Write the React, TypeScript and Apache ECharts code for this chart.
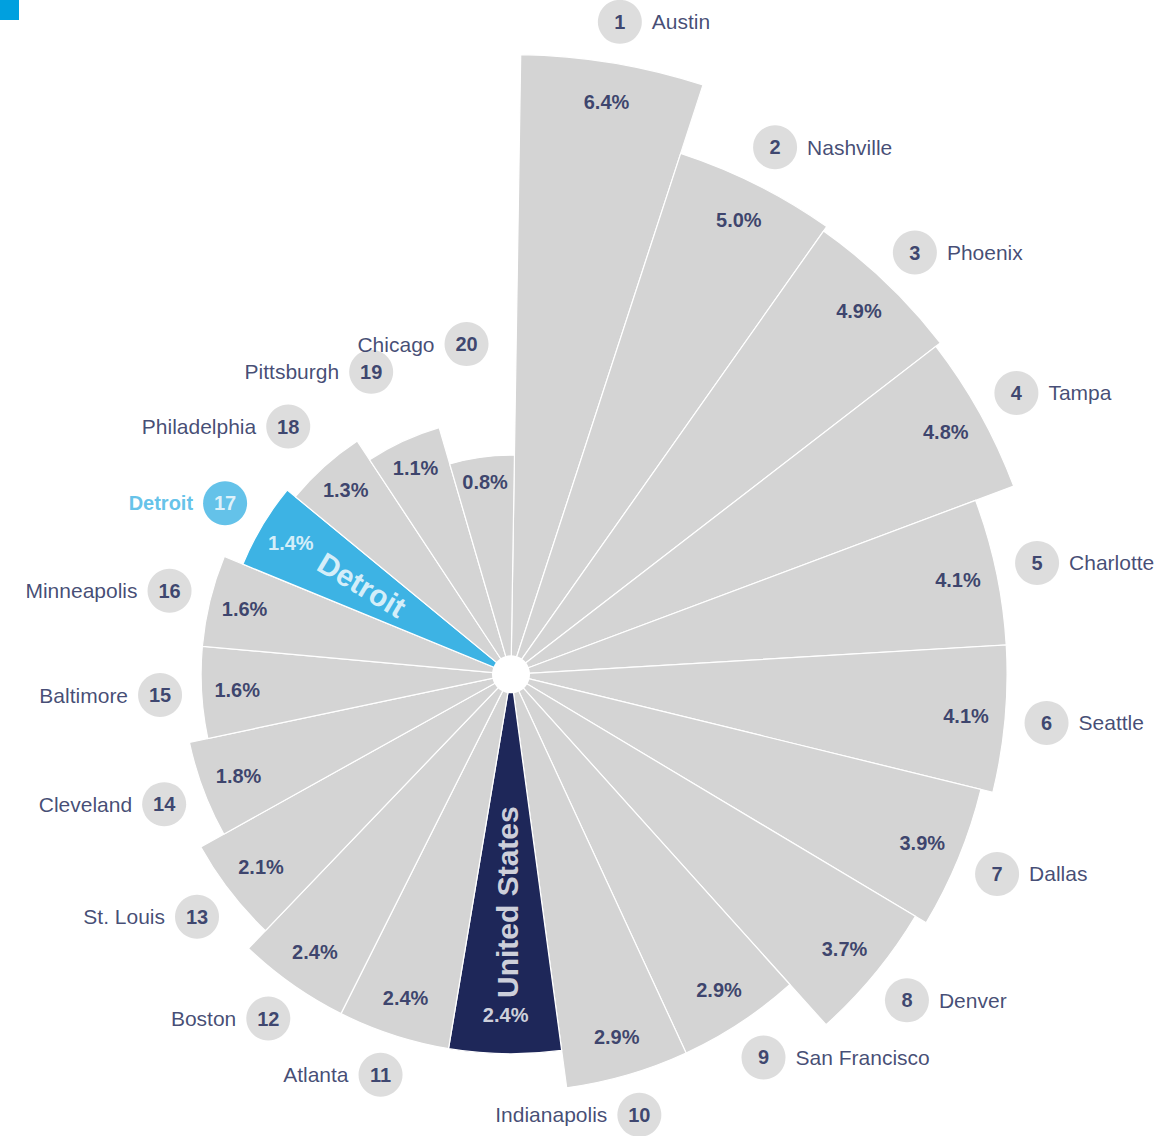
import React, { useEffect, useRef } from "react";
import * as echarts from "echarts";

const cities = [
  "Austin", "Nashville", "Phoenix", "Tampa", "Charlotte", "Seattle", "Dallas",
  "Denver", "San Francisco", "Indianapolis", "United States", "Atlanta", "Boston",
  "St. Louis", "Cleveland", "Baltimore", "Minneapolis", "Detroit", "Philadelphia",
  "Pittsburgh", "Chicago",
];
const growth = [
  6.4, 5.0, 4.9, 4.8, 4.1, 4.1, 3.9, 3.7, 2.9, 2.9, 2.4, 2.4, 2.4, 2.1, 1.8, 1.6,
  1.6, 1.4, 1.3, 1.1, 0.8,
];
const ranks: (number | null)[] = [
  1, 2, 3, 4, 5, 6, 7, 8, 9, 10, null, 11, 12, 13, 14, 15, 16, 17, 18, 19, 20,
];

const NAVY = "#141d52";
const GRAY = "#d4d4d4";
const BLUE = "#3db3e4";
const DARK = "#1e2759";
const FONT = "'Liberation Sans', Arial, sans-serif";

export default function App() {
  const ref = useRef<HTMLDivElement>(null);
  useEffect(() => {
    const chart = echarts.init(ref.current!, null, { renderer: "svg" });
    const US = cities.indexOf("United States");
    const DET = cities.indexOf("Detroit");
    const radial = growth.map((v) => Math.sqrt(v));
    const barColor = (i: number) => (i === US ? DARK : i === DET ? BLUE : GRAY);
    const labelR = (i: number) => Math.max(radial[i] + 0.17, 1.36);

    const rankItems: any[] = [];
    const nameItems: any[] = [];
    cities.forEach((c, i) => {
      if (ranks[i] == null) return;
      const isDet = i === DET;
      rankItems.push({
        value: [labelR(i), i],
        itemStyle: { color: isDet ? BLUE : GRAY },
        label: { color: isDet ? "#ffffff" : NAVY },
      });
      nameItems.push({
        value: [labelR(i), i],
        label: {
          position: i < 9 ? "right" : "left",
          color: isDet ? BLUE : NAVY,
          fontWeight: isDet ? "bold" : "normal",
          fontSize: isDet ? 20 : 21,
        },
      });
    });

    const valueItems = growth.map((v, i) => ({
      value: [radial[i] - Math.min(0.16, 0.115 * radial[i]), i],
      label: { color: i === US || i === DET ? "#ffffff" : NAVY },
    }));

    chart.setOption({
      animation: false,
      polar: { center: [511, 674.3], radius: 735 },
      angleAxis: {
        type: "category",
        data: cities,
        startAngle: 89.1,
        clockwise: true,
        axisLine: { show: false },
        axisTick: { show: false },
        axisLabel: { show: false },
        splitLine: { show: false },
      },
      radiusAxis: {
        type: "value",
        min: 0,
        max: 3,
        axisLine: { show: false },
        axisTick: { show: false },
        axisLabel: { show: false },
        splitLine: { show: false },
      },
      series: [
        {
          type: "bar",
          coordinateSystem: "polar",
          barCategoryGap: "0%",
          silent: true,
          data: radial.map((r, i) => ({
            value: r,
            itemStyle: { color: barColor(i), borderColor: "#ffffff", borderWidth: 1.2 },
          })),
        },
        {
          type: "scatter",
          coordinateSystem: "polar",
          silent: true,
          symbol: "circle",
          symbolSize: 1,
          itemStyle: { color: "transparent" },
          label: {
            show: true,
            position: "inside",
            fontFamily: FONT,
            fontWeight: "bold",
            fontSize: 20,
            formatter: (p: any) => `${growth[p.dataIndex].toFixed(1)}%`,
          },
          data: valueItems,
          z: 5,
        },
        {
          type: "scatter",
          coordinateSystem: "polar",
          silent: true,
          symbol: "circle",
          symbolSize: 44,
          label: {
            show: true,
            position: "inside",
            fontFamily: FONT,
            fontWeight: "bold",
            fontSize: 20,
            formatter: (p: any) => String(ranks[p.value[1]]),
          },
          data: rankItems,
          z: 5,
        },
        {
          type: "scatter",
          coordinateSystem: "polar",
          silent: true,
          symbol: "circle",
          symbolSize: 44,
          itemStyle: { color: "transparent" },
          label: {
            show: true,
            distance: 10,
            fontFamily: FONT,
            formatter: (p: any) => cities[p.value[1]],
          },
          data: nameItems,
          z: 5,
        },
        {
          type: "scatter",
          coordinateSystem: "polar",
          silent: true,
          symbol: "circle",
          symbolSize: 1,
          itemStyle: { color: "transparent" },
          label: {
            show: true,
            position: "inside",
            fontFamily: FONT,
            fontWeight: "bold",
            fontSize: 30,
            color: "#ffffff",
            formatter: (p: any) => cities[p.value[1]],
          },
          data: [
            { value: [0.71, DET], label: { rotate: -30.9 } },
            { value: [0.93, US], label: { rotate: 90 } },
          ],
          z: 6,
        },
      ],
      graphic: [
        {
          type: "rect",
          left: 0,
          top: 0,
          shape: { width: 19, height: 20 },
          style: { fill: "#00a0df" },
          z: 100,
        },
        {
          type: "circle",
          shape: { cx: 511, cy: 674.3, r: 19 },
          style: { fill: "#ffffff" },
          z: 100,
        },
      ],
    });
    return () => chart.dispose();
  }, []);
  return (
    <div
      ref={ref}
      style={{ position: "absolute", left: 0, top: 0, width: 1174, height: 1136 }}
    />
  );
}
